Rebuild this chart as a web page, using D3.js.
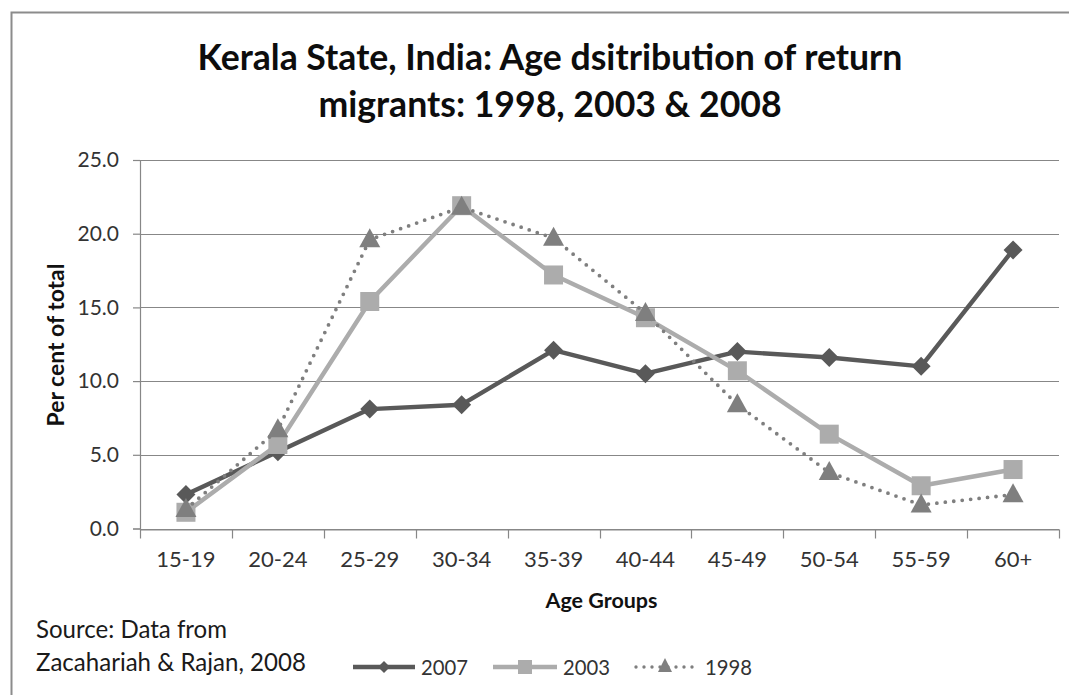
<!DOCTYPE html>
<html>
<head>
<meta charset="utf-8">
<script src="https://cdn.jsdelivr.net/npm/d3@7/dist/d3.min.js"></script>
<style>
  html, body { margin: 0; padding: 0; background: #fff; }
  svg { display: block; font-family: Lato, "Open Sans", sans-serif; }
</style>
</head>
<body>
<svg id="chart" width="1069" height="695"></svg>
<script>
// Age groups along the horizontal axis
const ageGroups = ["15-19", "20-24", "25-29", "30-34", "35-39", "40-44", "45-49", "50-54", "55-59", "60+"];

// Per cent of total return migrants in each age group
const values2007 = [2.3, 5.2, 8.1, 8.4, 12.1, 10.5, 12.0, 11.6, 11.0, 18.9];
const values2003 = [1.1, 5.7, 15.4, 21.9, 17.2, 14.3, 10.7, 6.4, 2.9, 4.0];
const values1998 = [1.3, 6.7, 19.6, 21.8, 19.7, 14.6, 8.4, 3.8, 1.6, 2.3];

const yTicks = [0, 5, 10, 15, 20, 25];

const titleLines = ["Kerala State, India: Age dsitribution of return", "migrants: 1998, 2003 & 2008"];
const sourceLines = ["Source: Data from", "Zacahariah & Rajan, 2008"];

const series = [
  { name: "2007", values: values2007, color: "#595959", marker: "diamond", dotted: false },
  { name: "2003", values: values2003, color: "#acacac", marker: "square", dotted: false },
  { name: "1998", values: values1998, color: "#7f7f7f", marker: "triangle", dotted: true }
];

const svg = d3.select("#chart");
const plot = { left: 140, right: 1059, top: 160, bottom: 528.5 };
const axisColor = "#878787";
const textColor = "#333";

// Scale a text's font size so that it spans a given width
function fitWidth(sel, base, width) {
  const w = sel.node().getComputedTextLength();
  sel.attr("font-size", base * width / w);
  return base * width / w;
}

// Outer chart frame (open on the right and bottom)
svg.append("path")
  .attr("d", "M11.5,700V12.5H1080")
  .attr("fill", "none").attr("stroke", "#8c8c8c").attr("stroke-width", 2);

const x = d3.scaleBand().domain(ageGroups).range([plot.left, plot.right]).padding(0);
const y = d3.scaleLinear().domain([0, 25]).range([plot.bottom, plot.top]);
const cx = d => x(d) + x.bandwidth() / 2;

// Horizontal gridlines
svg.append("g").selectAll("line").data(yTicks).join("line")
  .attr("x1", plot.left).attr("x2", plot.right)
  .attr("y1", d => Math.round(y(d)) + 0.5).attr("y2", d => Math.round(y(d)) + 0.5)
  .attr("stroke", axisColor).attr("stroke-width", 1.2);

// Y axis
const yAxis = svg.append("g")
  .attr("transform", `translate(${plot.left},0)`)
  .call(d3.axisLeft(y).tickValues(yTicks).tickFormat(d3.format(".1f")).tickSize(7).tickPadding(14));
yAxis.select(".domain").attr("stroke", axisColor).attr("stroke-width", 1.2);
yAxis.selectAll(".tick line").attr("stroke", axisColor).attr("stroke-width", 1.2);
yAxis.selectAll(".tick text").attr("font-size", 21).attr("fill", textColor)
  .attr("font-family", "Lato, sans-serif");

// X axis
const xAxis = svg.append("g")
  .attr("transform", `translate(0,${Math.round(plot.bottom) + 0.5})`)
  .call(d3.axisBottom(x).tickSize(0).tickPadding(22));
xAxis.select(".domain").attr("stroke", axisColor).attr("stroke-width", 1.2);
xAxis.selectAll(".tick text").attr("font-size", 22).attr("fill", textColor)
  .attr("font-family", "Lato, sans-serif");
// Tick marks on band boundaries
const bounds = ageGroups.map(g => x(g)).concat([plot.right]);
xAxis.append("g").selectAll("line").data(bounds).join("line")
  .attr("x1", d => Math.round(d) + 0.5).attr("x2", d => Math.round(d) + 0.5)
  .attr("y1", 0).attr("y2", 9)
  .attr("stroke", axisColor).attr("stroke-width", 1.2);

// Axis titles
const xTitle = svg.append("text")
  .attr("x", (plot.left + plot.right) / 2 + 2).attr("y", 608)
  .attr("text-anchor", "middle").attr("font-size", 21).attr("font-weight", "bold")
  .attr("fill", "#111").text("Age Groups");
fitWidth(xTitle, 21, 112);
const yTitle = svg.append("text")
  .attr("transform", "translate(64,345) rotate(-90)")
  .attr("text-anchor", "middle").attr("font-size", 21).attr("font-weight", "bold")
  .attr("fill", "#111").text("Per cent of total");
fitWidth(yTitle, 21, 163);

// Title, sized so the first line spans its space
const titleTexts = svg.append("g").selectAll("text").data(titleLines).join("text")
  .attr("x", 550).attr("y", (d, i) => 70 + i * 47)
  .attr("text-anchor", "middle").attr("font-weight", "bold")
  .attr("font-size", 32).attr("fill", "#0d0d0d").text(d => d);
const w1 = titleTexts.nodes()[0].getComputedTextLength();
titleTexts.attr("font-size", 32 * 705 / w1);

// Source note
const src = svg.append("g").selectAll("text").data(sourceLines).join("text")
  .attr("x", 36).attr("y", (d, i) => 638 + i * 33)
  .attr("font-size", 22).attr("fill", "#1a1a1a").text(d => d);
const srcW = src.nodes()[1].getComputedTextLength();
src.attr("font-size", 22 * 270 / srcW);

// Marker shapes
function drawMarker(g, type, color, px, py) {
  if (type === "diamond") {
    const r = 9.5;
    g.append("path").attr("d", `M${px},${py - r}L${px + r},${py}L${px},${py + r}L${px - r},${py}Z`).attr("fill", color);
  } else if (type === "square") {
    const s = 19;
    g.append("rect").attr("x", px - s / 2).attr("y", py - s / 2).attr("width", s).attr("height", s).attr("fill", color);
  } else {
    const hw = 10.5, h = 19;
    g.append("path").attr("d", `M${px},${py - h * 0.6}L${px + hw},${py + h * 0.4}L${px - hw},${py + h * 0.4}Z`).attr("fill", color);
  }
}

const line = d3.line().x((d, i) => cx(ageGroups[i])).y(d => y(d));

series.forEach(s => {
  const g = svg.append("g");
  const p = g.append("path").datum(s.values)
    .attr("d", line).attr("fill", "none").attr("stroke", s.color)
    .attr("stroke-linejoin", "round");
  if (s.dotted) {
    p.attr("stroke-width", 3.8).attr("stroke-dasharray", "0 8.5").attr("stroke-linecap", "round");
  } else {
    p.attr("stroke-width", 4.4);
  }
  s.values.forEach((v, i) => drawMarker(g, s.marker, s.color, cx(ageGroups[i]), y(v)));
});

// Legend
const legendItems = [
  { s: series[0], x0: 353, x1: 415, tx: 421 },
  { s: series[1], x0: 493, x1: 557, tx: 563 },
  { s: series[2], x0: 636, x1: 694, tx: 705 }
];
const ly = 667;
legendItems.forEach(it => {
  const g = svg.append("g");
  const l = g.append("line").attr("x1", it.x0).attr("x2", it.x1).attr("y1", ly).attr("y2", ly)
    .attr("stroke", it.s.color);
  if (it.s.dotted) {
    l.attr("stroke-width", 3.4).attr("stroke-dasharray", "0 8").attr("stroke-linecap", "round");
  } else {
    l.attr("stroke-width", 4.4);
  }
  const mx = (it.x0 + it.x1) / 2;
  if (it.s.marker === "diamond") {
    g.append("path").attr("d", `M${mx},${ly - 6}L${mx + 6},${ly}L${mx},${ly + 6}L${mx - 6},${ly}Z`).attr("fill", it.s.color);
  } else if (it.s.marker === "square") {
    g.append("rect").attr("x", mx - 7).attr("y", ly - 7).attr("width", 14).attr("height", 14).attr("fill", it.s.color);
  } else {
    g.append("path").attr("d", `M${mx},${ly - 9}L${mx + 7},${ly + 5}L${mx - 7},${ly + 5}Z`).attr("fill", it.s.color);
  }
  const t = g.append("text").attr("x", it.tx).attr("y", ly + 8).attr("font-size", 21)
    .attr("fill", textColor).text(it.s.name);
  fitWidth(t, 21, 47);
});
</script>
</body>
</html>
